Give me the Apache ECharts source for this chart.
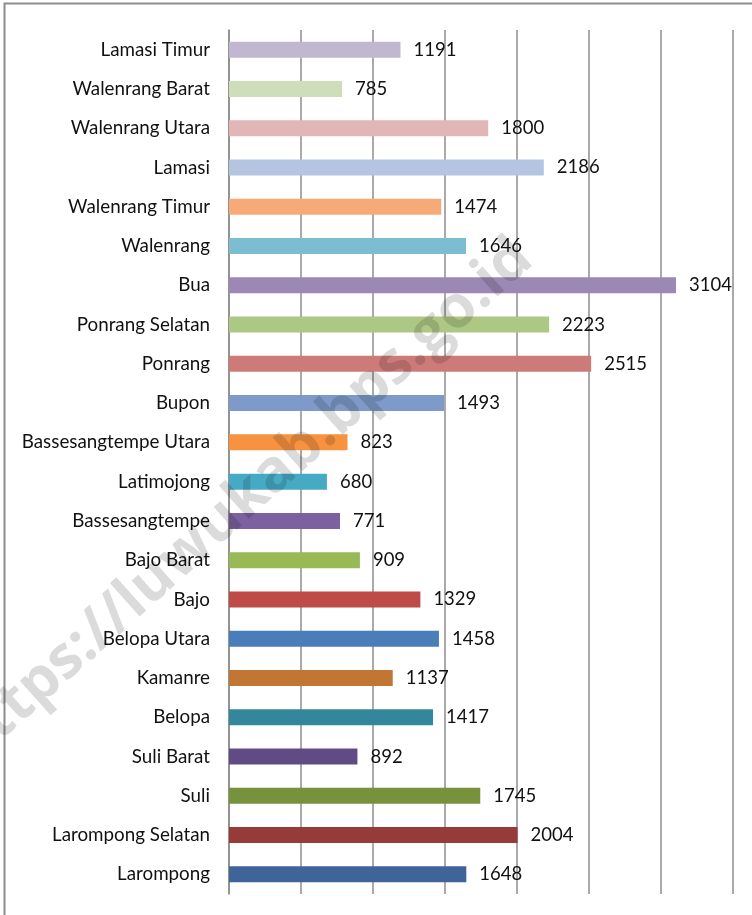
<!DOCTYPE html>
<html>
<head>
<meta charset="utf-8">
<script src="https://cdn.jsdelivr.net/npm/echarts@6/dist/echarts.min.js"></script>
<style>
  html, body { margin: 0; padding: 0; background: #fff; }
  #chart { width: 752px; height: 915px; }
</style>
</head>
<body>
<div id="chart"></div>
<script>
// kecamatan, dari bawah ke atas
var categories = ['Larompong', 'Larompong Selatan', 'Suli', 'Suli Barat', 'Belopa', 'Kamanre',
  'Belopa Utara', 'Bajo', 'Bajo Barat', 'Bassesangtempe', 'Latimojong', 'Bassesangtempe Utara',
  'Bupon', 'Ponrang', 'Ponrang Selatan', 'Bua', 'Walenrang', 'Walenrang Timur',
  'Lamasi', 'Walenrang Utara', 'Walenrang Barat', 'Lamasi Timur']
var values = [1648, 2004, 1745, 892, 1417, 1137,
  1458, 1329, 909, 771, 680, 823,
  1493, 2515, 2223, 3104, 1646, 1474,
  2186, 1800, 785, 1191]
var barColors = ['#3E6498', '#973B39', '#77923D', '#604C85', '#32879D', '#C27634',
  '#4A7EBB', '#BE4B48', '#98B954', '#7D60A0', '#46AAC5', '#F69240',
  '#7D9AC8', '#CD7B79', '#ADC785', '#9C88B4', '#7CBDD1', '#F8A978',
  '#B5C4E0', '#E2B6B6', '#CEDDBA', '#C2B7D1']

var chart = echarts.init(document.getElementById('chart'))
chart.setOption({
  animation: false,
  grid: {
    left: 229,
    right: 19,
    top: 30,
    bottom: 21
  },
  xAxis: {
    type: 'value',
    min: 0,
    max: 3500,
    interval: 500,
    axisLabel: { show: false },
    axisLine: { show: false },
    axisTick: { show: false },
    splitLine: { lineStyle: { color: '#8c8c8c', width: 1.5 } }
  },
  yAxis: {
    type: 'category',
    data: categories,
    axisLine: { lineStyle: { color: '#8c8c8c', width: 1.5 } },
    axisTick: { length: 6, lineStyle: { color: '#8c8c8c', width: 1.5 } },
    axisLabel: {
      margin: 19,
      color: '#111',
      fontSize: 18.8,
      fontFamily: 'Lato'
    }
  },
  graphic: [
    // bingkai kiri dan atas
    {
      type: 'polyline',
      silent: true,
      shape: { points: [[4.5, 915], [4.5, 3.5], [752, 3.5]] },
      style: { stroke: '#8c8c8c', lineWidth: 2, fill: null }
    },
    // watermark
    {
      type: 'text',
      x: 524,
      y: 250,
      z: 100,
      rotation: 0.73,
      silent: true,
      style: {
        x: 0,
        y: 0,
        text: 'https://luwukab.bps.go.id',
        fill: 'rgba(0,0,0,0.14)',
        font: 'bold 59px "Open Sans"',
        align: 'right',
        verticalAlign: 'middle'
      }
    }
  ],
  series: [
    {
      type: 'bar',
      barWidth: 16,
      data: values.map(function (v, i) {
        return { value: v, itemStyle: { color: barColors[i] } }
      }),
      label: {
        show: true,
        position: 'right',
        distance: 13,
        color: '#111',
        fontSize: 18.5,
        fontFamily: 'Lato'
      }
    }
  ]
})
</script>
</body>
</html>
